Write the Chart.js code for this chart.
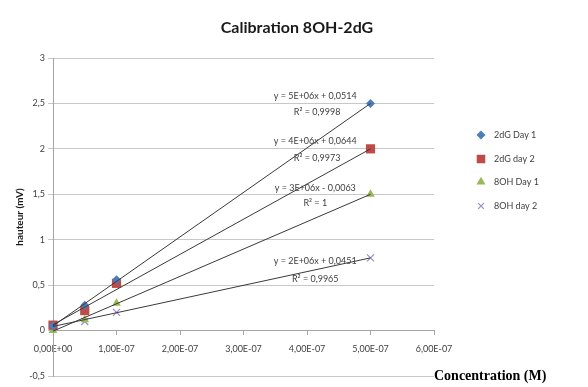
<!DOCTYPE html>
<html>
<head>
<meta charset="utf-8">
<script src="https://cdn.jsdelivr.net/npm/chart.js@4/dist/chart.umd.min.js"></script>
<style>
  html, body { margin: 0; padding: 0; background: #fff; }
  #wrap { width: 588px; height: 387px; }
</style>
</head>
<body>
<div id="wrap"><canvas id="calib"></canvas></div>
<script>
const concentrations = [0, 5e-8, 1e-7, 5e-7];
const dgDay1 = [0.05, 0.28, 0.56, 2.5];
const dgDay2 = [0.06, 0.22, 0.52, 2.0];
const ohDay1 = [0.0, 0.12, 0.3, 1.5];
const ohDay2 = [0.04, 0.1, 0.2, 0.8];

// trendline ends (x = 0 and x = 5E-07)
const trendX = [0, 5e-7];
const trendDg1 = [0.0514, 2.5];
const trendDg2 = [0.0644, 2.0];
const trendOh1 = [-0.0063, 1.5];
const trendOh2 = [0.0451, 0.8];

const seriesNames = ['2dG Day 1', '2dG day 2', '8OH Day 1', '8OH day 2'];
const seriesColors = ['#4a7ebb', '#be4b48', '#98b954', '#9d8ac4'];
const seriesStyles = ['rectRot', 'rect', 'triangle', 'crossRot'];
const seriesRadius = [4.5, 6.5, 5, 5];

// equation labels: [x, y, text]
const equations = [
  [4.13e-7, 2.58, 'y = 5E+06x + 0,0514'], [4.16e-7, 2.40, 'R² = 0,9998'],
  [4.13e-7, 2.08, 'y = 4E+06x + 0,0644'], [4.16e-7, 1.90, 'R² = 0,9973'],
  [4.13e-7, 1.57, 'y = 3E+06x - 0,0063'], [4.13e-7, 1.40, 'R² = 1'],
  [4.13e-7, 0.76, 'y = 2E+06x + 0,0451'], [4.13e-7, 0.57, 'R² = 0,9965']
];

const xTicks = [0, 1e-7, 2e-7, 3e-7, 4e-7, 5e-7, 6e-7];

function sciLabel(v) {
  const parts = Number(v).toExponential(2).split('e');
  const exp = parseInt(parts[1], 10);
  return parts[0].replace('.', ',') + 'E' + (exp < 0 ? '-' : '+') + String(Math.abs(exp)).padStart(2, '0');
}

const pointSets = [dgDay1, dgDay2, ohDay1, ohDay2].map((vals, i) => ({
  label: seriesNames[i],
  data: concentrations.map((c, j) => ({ x: c, y: vals[j] })),
  showLine: false,
  pointStyle: seriesStyles[i],
  pointRadius: seriesRadius[i],
  pointBackgroundColor: seriesColors[i],
  pointBorderColor: seriesColors[i],
  pointBorderWidth: i === 3 ? 1.2 : 0,
  clip: false,
  order: 1
}));

const trendSets = [trendDg1, trendDg2, trendOh1, trendOh2].map(vals => ({
  label: 'trend',
  data: trendX.map((c, j) => ({ x: c, y: vals[j] })),
  showLine: true,
  borderColor: '#3a3a3a',
  borderWidth: 1,
  pointRadius: 0,
  order: 0
}));

const txtColor = '#404040';

const extras = {
  id: 'extras',
  afterDraw(chart) {
    const ctx = chart.ctx;
    const xs = chart.scales.x, ys = chart.scales.y;
    ctx.save();
    // title
    ctx.fillStyle = '#1a1a1a';
    ctx.font = 'bold 16px Lato';
    ctx.textAlign = 'center';
    ctx.textBaseline = 'middle';
    ctx.fillText('Calibration 8OH-2dG', 297, 28);

    // equations
    ctx.fillStyle = txtColor;
    ctx.font = '9px Lato';
    equations.forEach(([x, y, t]) => {
      ctx.fillText(t, xs.getPixelForValue(x), ys.getPixelForValue(y));
    });

    // legend
    const rows = [135, 159, 182, 206];
    seriesNames.forEach((name, i) => {
      ctx.fillStyle = seriesColors[i];
      ctx.strokeStyle = seriesColors[i];
      ctx.lineWidth = i === 3 ? 1.2 : 0;
      Chart.helpers.drawPoint(ctx, { pointStyle: seriesStyles[i], radius: seriesRadius[i] * 0.8, borderWidth: ctx.lineWidth }, 481, rows[i]);
      ctx.fillStyle = txtColor;
      ctx.textAlign = 'left';
      ctx.fillText(name, 494, rows[i]);
    });

    // x axis title
    ctx.fillStyle = '#000';
    ctx.font = 'bold 14px "Liberation Serif"';
    ctx.textAlign = 'left';
    ctx.fillText('Concentration (M)', 434, 376);
    ctx.restore();
  }
};

new Chart(document.getElementById('calib').getContext('2d'), {
  type: 'scatter',
  data: { datasets: [...trendSets, ...pointSets] },
  options: {
    responsive: true,
    maintainAspectRatio: false,
    animation: false,
    layout: { padding: { left: 0, right: 154, top: 58, bottom: 11 } },
    plugins: {
      legend: { display: false },
      title: { display: false },
      tooltip: { enabled: false }
    },
    scales: {
      x: {
        type: 'linear',
        position: { y: 0 },
        min: 0,
        max: 6e-7,
        afterBuildTicks: axis => { axis.ticks = xTicks.map(v => ({ value: v })); },
        ticks: {
          callback: v => sciLabel(v),
          color: '#404040',
          font: { family: 'Lato', size: 9 },
          padding: 9,
          maxRotation: 0
        },
        grid: { drawOnChartArea: false, tickLength: 4, color: '#a6a6a6' },
        border: { color: '#a6a6a6' }
      },
      y: {
        min: -0.5,
        max: 3,
        afterFit: axis => { axis.width = 53; },
        ticks: {
          stepSize: 0.5,
          callback: v => String(v).replace('.', ','),
          color: '#404040',
          font: { family: 'Lato', size: 9 },
          padding: 3
        },
        grid: { color: '#c8c8c8', tickLength: 5 },
        border: { color: '#a6a6a6' },
        title: {
          display: true,
          text: 'hauteur (mV)',
          color: '#1a1a1a',
          font: { family: 'Lato', size: 10, weight: 'bold' },
          padding: { top: 14, bottom: 0 }
        }
      }
    }
  },
  plugins: [extras]
});
</script>
</body>
</html>
